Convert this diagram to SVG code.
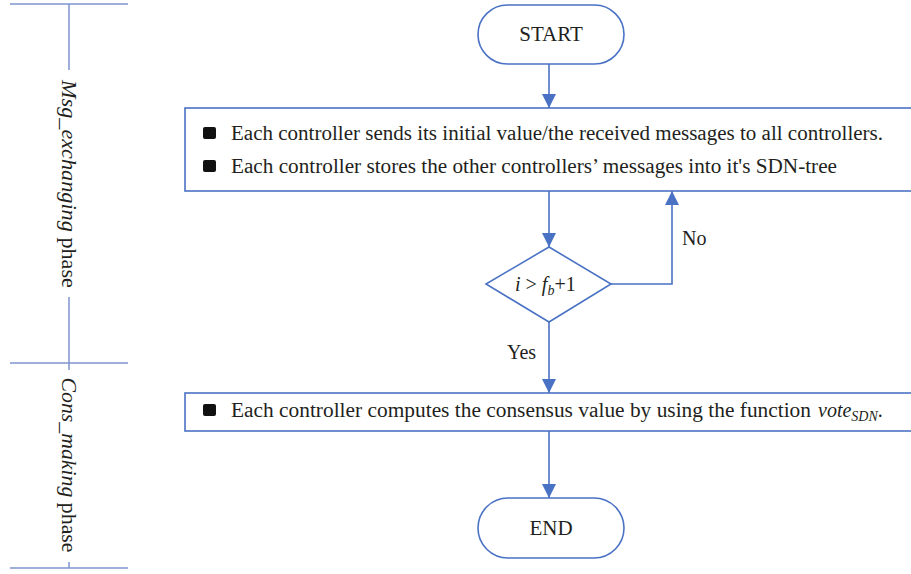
<svg xmlns="http://www.w3.org/2000/svg" width="911" height="574" viewBox="0 0 911 574">
<style>
.ln{stroke:#4a72c4;stroke-width:1.6;fill:none}
.bx{stroke:#4a72c4;stroke-width:1.6;fill:#fff}
.ph{stroke:#7e95cf;stroke-width:1.5;fill:none}
.t{font-family:"Liberation Serif","Times New Roman",serif;font-size:20px;fill:#231f20}
.big{font-size:21px}
.it{font-style:italic}
.sub{font-size:14px}
.bl{fill:#111}
</style>
<defs>
<marker id="ah" viewBox="0 0 10 10" refX="10" refY="5" markerWidth="14" markerHeight="22" markerUnits="userSpaceOnUse" orient="auto">
<path d="M0,0 L10,5 L0,10 Z" fill="#4a72c4"/>
</marker>
</defs>
<g id="phases">
<line class="ph" x1="10" y1="4" x2="128" y2="4"/>
<line class="ph" x1="69" y1="4" x2="69" y2="70"/>
<text class="t" text-anchor="middle" textLength="208" lengthAdjust="spacingAndGlyphs" transform="translate(62,184) rotate(90)"><tspan class="it">Msg_exchanging</tspan> phase</text>
<line class="ph" x1="69" y1="297" x2="69" y2="370"/>
<line class="ph" x1="10" y1="363" x2="128" y2="363"/>
<text class="t" text-anchor="middle" textLength="175" lengthAdjust="spacingAndGlyphs" transform="translate(62,465) rotate(90)"><tspan class="it">Cons_making</tspan> phase</text>
<line class="ph" x1="69" y1="562" x2="69" y2="568"/>
<line class="ph" x1="10" y1="568" x2="128" y2="568"/>
</g>
<g id="connectors">
<line class="ln" x1="549" y1="64" x2="549" y2="108" marker-end="url(#ah)"/>
<line class="ln" x1="549" y1="191" x2="549" y2="247" marker-end="url(#ah)"/>
<polyline class="ln" points="611,284 672,284 672,191" marker-end="url(#ah)"/>
<line class="ln" x1="549" y1="322" x2="549" y2="393" marker-end="url(#ah)"/>
<line class="ln" x1="549" y1="431" x2="549" y2="498" marker-end="url(#ah)"/>
<text class="t" x="682" y="245">No</text>
<text class="t" x="507" y="359">Yes</text>
</g>
<g id="start">
<rect class="bx" x="478" y="5" width="146" height="59" rx="29.5"/>
<text class="t big" x="551" y="41" text-anchor="middle">START</text>
</g>
<g id="exchange">
<rect class="bx" x="185" y="108" width="730" height="83"/>
<rect class="bl" x="203" y="127" width="13" height="12" rx="2"/>
<text class="t" x="231" y="140" textLength="652" lengthAdjust="spacingAndGlyphs">Each controller sends its initial value/the received messages to all controllers.</text>
<rect class="bl" x="203" y="160" width="13" height="12" rx="2"/>
<text class="t" x="231" y="173" textLength="606" lengthAdjust="spacingAndGlyphs">Each controller stores the other controllers’ messages into it's SDN-tree</text>
</g>
<g id="decision">
<polygon class="bx" points="549,247 611,284 549,322 486,284"/>
<text class="t" x="515" y="291"><tspan class="it">i</tspan> &gt; <tspan class="it">f</tspan><tspan class="it sub" dy="4">b</tspan><tspan dy="-4">+1</tspan></text>
</g>
<g id="consensus">
<rect class="bx" x="185" y="393" width="730" height="38"/>
<rect class="bl" x="203" y="404" width="13" height="12" rx="2"/>
<text class="t" x="231" y="417" textLength="580" lengthAdjust="spacingAndGlyphs">Each controller computes the consensus value by using the function</text>
<text class="t" x="818" y="417"><tspan class="it">vote</tspan><tspan class="it sub" dy="4">SDN</tspan><tspan dy="-4">.</tspan></text>
</g>
<g id="end">
<rect class="bx" x="478" y="498" width="146" height="60" rx="30"/>
<text class="t big" x="551" y="535" text-anchor="middle">END</text>
</g>
</svg>
